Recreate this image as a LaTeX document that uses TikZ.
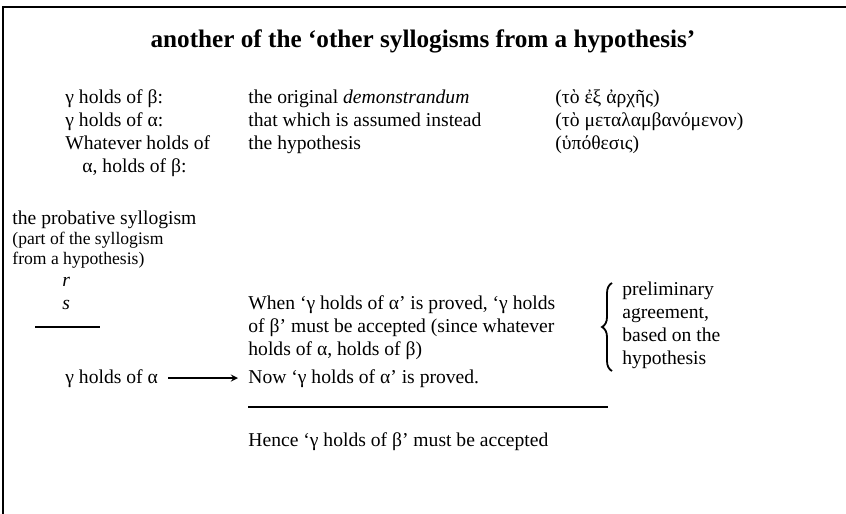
\documentclass[tikz,border=0pt]{standalone}
\usepackage{fontspec}
\setmainfont{Liberation Serif}
\usetikzlibrary{positioning}
\usetikzlibrary{arrows, decorations.pathreplacing}
\tikzstyle{txt}   = [anchor=base west, inner sep=0pt, font=\fontsize{9.8}{11.5}\selectfont]
\tikzstyle{small} = [anchor=base west, inner sep=0pt, font=\fontsize{8.8}{10}\selectfont]
\tikzstyle{rule}  = [line width=0.7pt]
\tikzstyle{arrow} = [->, >=stealth, line width=0.6pt]

\begin{document}
\begin{tikzpicture}[x=0.5pt, y=-0.5pt]
\useasboundingbox (0,0) rectangle (846,514);
\draw [line width=1pt] (846,7) -| (3,514);
\node (title) [anchor=base, inner sep=0pt, font=\fontsize{12.6}{14}\selectfont\bfseries] at (423,47) {another of the `other syllogisms from a hypothesis'};
% the three terms
\node (beta) [txt] at (65,103) {γ holds of β:};
\node (alpha) [txt] at (65,126) {γ holds of α:};
\node (whatever) [txt] at (65,149) {Whatever holds of};
\node (whatever2) [txt] at (82,172) {α, holds of β:};
\node (original) [txt] at (248,103) {the original \emph{demonstrandum}};
\node (instead) [txt] at (248,126) {that which is assumed instead};
\node (hypothesis) [txt] at (248,149) {the hypothesis};
\node (greek1) [txt] at (555,103) {(τὸ ἐξ ἀρχῆς)};
\node (greek2) [txt] at (555,126) {(τὸ μεταλαμβανόμενον)};
\node (greek3) [txt] at (555,149) {(ὑπόθεσις)};
% the probative syllogism
\node (probative) [txt] at (12,224) {the probative syllogism};
\node (part) [small] at (12,244) {(part of the syllogism};
\node (from) [small] at (12,264) {from a hypothesis)};
\node (r) [txt] at (62,286) {\textit{r}};
\node (s) [txt] at (62,309) {\textit{s}};
\node (when1) [txt] at (248,309) {When `γ holds of α' is proved, `γ holds};
\node (when2) [txt] at (248,332) {of β' must be accepted (since whatever};
\node (when3) [txt] at (248,355) {holds of α, holds of β)};
\node (galpha) [txt] at (65,383) {γ holds of α};
\node (now) [txt] at (248,383) {Now `γ holds of α' is proved.};
\node (hence) [txt] at (248,446) {Hence `γ holds of β' must be accepted};
\node (prelim) [txt, align=left, anchor=north west] at (622,281) {preliminary\\agreement,\\based on the\\hypothesis};
\coordinate (bracetop) at (612,283);
\coordinate (bracebot) at (612,371);
\draw [decorate, decoration={brace, amplitude=5pt}, line width=0.9pt] (bracebot) -- (bracetop);
\draw [rule] (35,327) -- (100,327);
\draw [rule] (248,407) -- (608,407);
\draw [arrow] ([shift={(5pt,2.5pt)}]galpha.base east) -- ([shift={(-5pt,2.5pt)}]now.base west);
\end{tikzpicture}
\end{document}
